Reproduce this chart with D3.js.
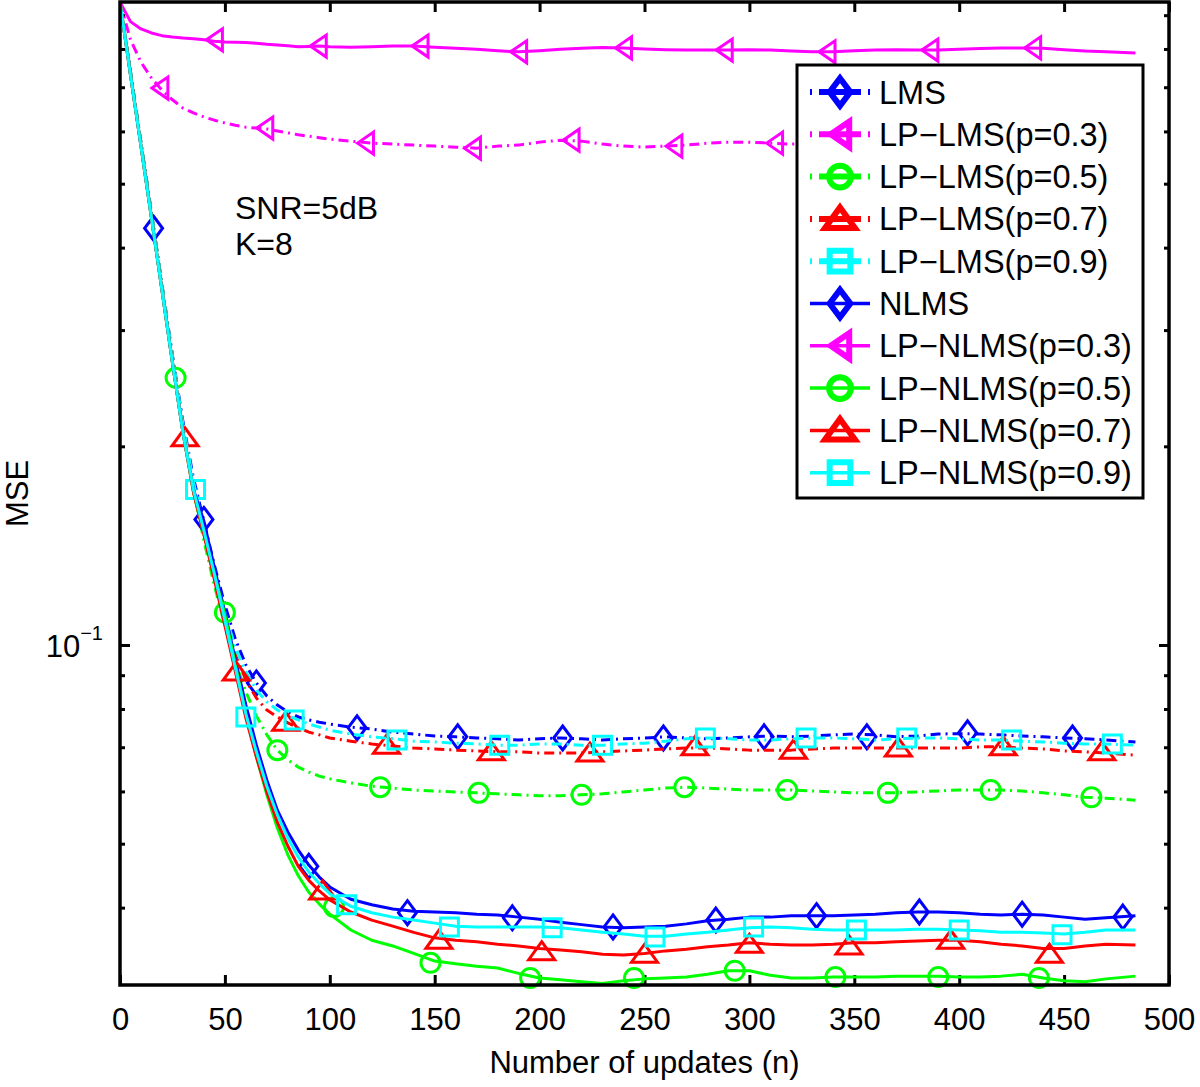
<!DOCTYPE html>
<html><head><meta charset="utf-8">
<script src="https://cdn.jsdelivr.net/npm/d3@7"></script>
<style>body{margin:0;background:#fff} svg{display:block} text{font-family:"Liberation Sans",Arial,Helvetica,sans-serif;fill:#000}</style>
</head><body><svg id="c" width="1200" height="1087"></svg>
<script>
// ---------- DATA ----------
const nGrid = [0,5,10,15,20,25,30,35,40,45,50,55,60,65,70,75,80,85,90,95,100,
  110,120,130,140,150,160,170,180,190,200,210,220,230,240,250,260,270,280,290,300,
  310,320,330,340,350,360,370,380,390,400,410,420,430,440,450,460,470,484];

const lmsMSE = [0.942,0.738,0.576,0.451,0.351,0.274,0.218,0.179,0.154,0.132,0.115,0.102,0.0933,0.0876,0.0837,0.0811,0.0792,0.0778,0.0770,0.0764,0.0759,
  0.0751,0.0746,0.0738,0.0733,0.0728,0.0726,0.0723,0.0721,0.0718,0.0721,0.0723,0.0721,0.0718,0.0721,0.0723,0.0726,0.0723,0.0721,0.0723,0.0726,
  0.0728,0.0726,0.0728,0.0731,0.0733,0.0731,0.0726,0.0728,0.0733,0.0734,0.0733,0.0731,0.0728,0.0726,0.0723,0.0721,0.0718,0.0713];
const lpLms03MSE = [0.942,0.826,0.764,0.723,0.693,0.670,0.651,0.640,0.631,0.624,0.618,0.613,0.609,0.607,0.605,0.601,0.597,0.593,0.590,0.587,0.584,
  0.580,0.576,0.574,0.572,0.570,0.568,0.566,0.570,0.572,0.578,0.582,0.580,0.574,0.570,0.568,0.570,0.572,0.576,0.578,0.578,
  0.576,0.574,0.575,0.577,0.578,0.576,0.574,0.573,0.575,0.577,0.578,0.576,0.574,0.575,0.577,0.576,0.574,0.573];
const lpLms05MSE = [0.942,0.738,0.576,0.451,0.351,0.270,0.212,0.172,0.144,0.123,0.107,0.0942,0.0849,0.0781,0.0731,0.0693,0.0670,0.0653,0.0642,0.0633,0.0627,
  0.0618,0.0611,0.0607,0.0603,0.0601,0.0599,0.0597,0.0595,0.0593,0.0591,0.0591,0.0593,0.0595,0.0599,0.0603,0.0607,0.0609,0.0607,0.0605,0.0603,
  0.0603,0.0603,0.0601,0.0599,0.0597,0.0597,0.0597,0.0599,0.0601,0.0603,0.0603,0.0603,0.0601,0.0597,0.0593,0.0588,0.0586,0.0582];
const lpLms07MSE = [0.942,0.738,0.576,0.451,0.351,0.274,0.215,0.175,0.148,0.128,0.110,0.0966,0.0885,0.0831,0.0797,0.0778,0.0762,0.0749,0.0738,0.0731,0.0723,
  0.0715,0.0708,0.0703,0.0698,0.0696,0.0693,0.0691,0.0689,0.0689,0.0686,0.0686,0.0686,0.0689,0.0691,0.0693,0.0696,0.0698,0.0698,0.0696,0.0693,
  0.0693,0.0693,0.0696,0.0698,0.0698,0.0698,0.0698,0.0698,0.0698,0.0698,0.0701,0.0701,0.0698,0.0696,0.0691,0.0689,0.0686,0.0681];
const lpLms09MSE = [0.942,0.738,0.576,0.451,0.351,0.274,0.216,0.177,0.150,0.130,0.112,0.0990,0.0910,0.0855,0.0820,0.0797,0.0781,0.0770,0.0759,0.0751,0.0743,
  0.0733,0.0726,0.0721,0.0715,0.0713,0.0710,0.0708,0.0705,0.0705,0.0708,0.0708,0.0705,0.0705,0.0708,0.0710,0.0715,0.0721,0.0723,0.0721,0.0718,
  0.0718,0.0721,0.0723,0.0723,0.0721,0.0718,0.0721,0.0723,0.0723,0.0721,0.0718,0.0718,0.0715,0.0713,0.0710,0.0708,0.0708,0.0705];
const nlmsMSE = [0.942,0.731,0.570,0.444,0.345,0.268,0.210,0.172,0.154,0.131,0.112,0.0949,0.0811,0.0705,0.0624,0.0562,0.0521,0.0489,0.0464,0.0445,0.0430,
  0.0412,0.0404,0.0398,0.0395,0.0394,0.0393,0.0391,0.0390,0.0387,0.0384,0.0380,0.0377,0.0374,0.0373,0.0374,0.0375,0.0378,0.0382,0.0384,0.0387,
  0.0387,0.0389,0.0389,0.0389,0.0390,0.0391,0.0393,0.0394,0.0394,0.0393,0.0391,0.0390,0.0391,0.0390,0.0387,0.0384,0.0386,0.0389];
const lpNlms03MSE = [0.942,0.880,0.858,0.846,0.838,0.834,0.831,0.829,0.826,0.822,0.820,0.819,0.818,0.816,0.813,0.811,0.809,0.806,0.807,0.808,0.806,
  0.805,0.806,0.808,0.808,0.805,0.802,0.799,0.795,0.792,0.795,0.799,0.802,0.804,0.803,0.800,0.798,0.797,0.797,0.797,0.798,
  0.797,0.794,0.792,0.792,0.795,0.797,0.798,0.797,0.797,0.799,0.801,0.803,0.803,0.802,0.798,0.794,0.792,0.789];
const lpNlms05MSE = [0.942,0.731,0.570,0.444,0.345,0.268,0.210,0.1705,0.147,0.128,0.111,0.0933,0.0783,0.0677,0.0593,0.0528,0.0481,0.0447,0.0422,0.0405,0.0391,
  0.0370,0.0357,0.0350,0.0341,0.0332,0.0329,0.0326,0.0324,0.0318,0.0313,0.0311,0.0309,0.0307,0.0310,0.0312,0.0313,0.0314,0.0317,0.0321,0.0321,
  0.0316,0.0313,0.0313,0.0314,0.0314,0.0314,0.0315,0.0315,0.0315,0.0314,0.0314,0.0315,0.0317,0.0313,0.0310,0.0309,0.0312,0.0315];
const lpNlms07MSE = [0.942,0.731,0.570,0.444,0.345,0.268,0.210,0.1705,0.147,0.1255,0.107,0.0910,0.0775,0.0677,0.0599,0.0539,0.0496,0.0462,0.0440,0.0424,0.0411,
  0.0394,0.0383,0.0375,0.0367,0.0360,0.0357,0.0355,0.0352,0.0350,0.0347,0.0345,0.0343,0.0340,0.0339,0.0341,0.0344,0.0346,0.0349,0.0351,0.0354,
  0.0352,0.0351,0.0351,0.0352,0.0354,0.0354,0.0355,0.0356,0.0357,0.0357,0.0355,0.0352,0.0350,0.0347,0.0347,0.0350,0.0352,0.0351];
const lpNlms09MSE = [0.942,0.731,0.570,0.444,0.345,0.268,0.210,0.172,0.149,0.128,0.109,0.0923,0.0786,0.0689,0.0611,0.0553,0.0510,0.0477,0.0453,0.0435,0.0420,
  0.0402,0.0393,0.0387,0.0383,0.0379,0.0375,0.0374,0.0374,0.0374,0.0374,0.0373,0.0370,0.0367,0.0365,0.0362,0.0362,0.0365,0.0367,0.0370,0.0373,
  0.0374,0.0373,0.0371,0.0370,0.0370,0.0370,0.0370,0.0371,0.0371,0.0370,0.0369,0.0367,0.0367,0.0366,0.0365,0.0367,0.0370,0.0370];

// marker positions (n) and values
const lmsMarkN = [16,65,113,161,211,259,307,356,404,454];
const lmsMarkMSE = [0.428,0.0876,0.0749,0.0726,0.0723,0.0723,0.0726,0.0726,0.0736,0.0723];
const lpLms03MarkN = [19,69,117,168,215,264,312,360,409,458];
const lpLms03MarkMSE = [0.698,0.607,0.576,0.566,0.582,0.570,0.576,0.576,0.578,0.576];
const lpLms05MarkN = [26.5,75,124,171,220,269,318,366,415,463];
const lpLms05MarkMSE = [0.254,0.0693,0.0609,0.0597,0.0593,0.0609,0.0603,0.0597,0.0603,0.0588];
const lpLms07MarkN = [31,79,127,177,224,274,321,371,421,468];
const lpLms07MarkMSE = [0.206,0.0764,0.0705,0.0689,0.0686,0.0701,0.0693,0.0698,0.0701,0.0689];
const lpLms09MarkN = [36,83,132,181,230,279,327,375,425,473];
const lpLms09MarkMSE = [0.172,0.0770,0.0718,0.0705,0.0705,0.0723,0.0723,0.0723,0.0718,0.0708];
const nlmsMarkN = [40,90,137,187,235,284,332,381,430,478];
const nlmsMarkMSE = [0.155,0.0462,0.0393,0.0386,0.0374,0.0383,0.0389,0.0394,0.0391,0.0387];
const lpNlms03MarkN = [45,94.5,143,190,240,288,337,386,435];
const lpNlms03MarkMSE = [0.826,0.808,0.808,0.792,0.803,0.797,0.792,0.797,0.803];
const lpNlms05MarkN = [50,102,148,195.5,245,293,341,390,438];
const lpNlms05MarkMSE = [0.112,0.0401,0.0330,0.0313,0.0313,0.0321,0.0314,0.0314,0.0313];
const lpNlms07MarkN = [55.4,96.6,152,201,250,300,347.5,396,443];
const lpNlms07MarkMSE = [0.0910,0.0424,0.0357,0.0343,0.0340,0.0352,0.0350,0.0357,0.0340];
const lpNlms09MarkN = [60,108,157,206,255,302,351,400,449];
const lpNlms09MarkMSE = [0.0778,0.0404,0.0374,0.0373,0.0361,0.0374,0.0370,0.0370,0.0364];

const seriesNames = ["LMS","LP\u2212LMS(p=0.3)","LP\u2212LMS(p=0.5)","LP\u2212LMS(p=0.7)","LP\u2212LMS(p=0.9)",
  "NLMS","LP\u2212NLMS(p=0.3)","LP\u2212NLMS(p=0.5)","LP\u2212NLMS(p=0.7)","LP\u2212NLMS(p=0.9)"];
const xTicks = [0,50,100,150,200,250,300,350,400,450,500];
const yMajorTicks = [0.1];
const yMinorTicks = [0.04,0.05,0.06,0.07,0.08,0.09,0.2,0.3,0.4,0.5,0.6,0.7,0.8,0.9];
const xLabel = "Number of updates (n)";
const yLabel = "MSE";
const annotations = ["SNR=5dB","K=8"];

// ---------- STYLE / LAYOUT ----------
const plot = {left:120, right:1169, top:2, bottom:985};
const styles = [
  {color:"#0000ff", dash:true,  marker:"diamond"},
  {color:"#ff00ff", dash:true,  marker:"triLeft"},
  {color:"#00ff00", dash:true,  marker:"circle"},
  {color:"#ff0000", dash:true,  marker:"triUp"},
  {color:"#00ffff", dash:true,  marker:"square"},
  {color:"#0000ff", dash:false, marker:"diamond"},
  {color:"#ff00ff", dash:false, marker:"triLeft"},
  {color:"#00ff00", dash:false, marker:"circle"},
  {color:"#ff0000", dash:false, marker:"triUp"},
  {color:"#00ffff", dash:false, marker:"square"}
];
const seriesVals = [lmsMSE,lpLms03MSE,lpLms05MSE,lpLms07MSE,lpLms09MSE,nlmsMSE,lpNlms03MSE,lpNlms05MSE,lpNlms07MSE,lpNlms09MSE];
const markN = [lmsMarkN,lpLms03MarkN,lpLms05MarkN,lpLms07MarkN,lpLms09MarkN,nlmsMarkN,lpNlms03MarkN,lpNlms05MarkN,lpNlms07MarkN,lpNlms09MarkN];
const markV = [lmsMarkMSE,lpLms03MarkMSE,lpLms05MarkMSE,lpLms07MarkMSE,lpLms09MarkMSE,nlmsMarkMSE,lpNlms03MarkMSE,lpNlms05MarkMSE,lpNlms07MarkMSE,lpNlms09MarkMSE];

function markerPath(type, s){
  switch(type){
    case "diamond": return `M0,${-12*s}L${9*s},0L0,${12*s}L${-9*s},0Z`;
    case "triLeft": return `M${-8*s},0L${8*s},${-11*s}L${8*s},${11*s}Z`;
    case "triUp": return `M0,${-10*s}L${13*s},${8*s}L${-13*s},${8*s}Z`;
    case "square": return `M${-9*s},${-9*s}H${9*s}V${9*s}H${-9*s}Z`;
    case "circle": { const r=9.5*s; return `M${-r},0A${r},${r} 0 1,0 ${r},0A${r},${r} 0 1,0 ${-r},0Z`; }
  }
}

const svg = d3.select("#c");
svg.append("rect").attr("width",1200).attr("height",1087).attr("fill","#fff");

const x = d3.scaleLinear().domain([0,500]).range([plot.left,plot.right]);
const y = d3.scaleLog().domain([0.03054,0.9424]).range([plot.bottom,plot.top]);

svg.append("clipPath").attr("id","pc").append("rect")
  .attr("x",plot.left).attr("y",plot.top).attr("width",plot.right-plot.left).attr("height",plot.bottom-plot.top);

// axes ticks (inward)
const axG = svg.append("g");
const bottomAx = d3.axisBottom(x).tickValues(xTicks).tickSizeInner(-10).tickSizeOuter(0).tickPadding(23).tickFormat(d3.format("d"));
const gb = axG.append("g").attr("transform",`translate(0,${plot.bottom})`).call(bottomAx);
gb.selectAll("text").attr("font-size",31).attr("font-family","Liberation Sans, Arial, sans-serif").attr("fill","#000");
const topAx = d3.axisTop(x).tickValues(xTicks).tickSizeInner(-10).tickSizeOuter(0).tickFormat("");
axG.append("g").attr("transform",`translate(0,${plot.top})`).call(topAx);
const leftMaj = d3.axisLeft(y).tickValues(yMajorTicks).tickSizeInner(-10).tickSizeOuter(0).tickFormat("");
axG.append("g").attr("transform",`translate(${plot.left},0)`).call(leftMaj);
const leftMin = d3.axisLeft(y).tickValues(yMinorTicks).tickSizeInner(-5).tickSizeOuter(0).tickFormat("");
axG.append("g").attr("transform",`translate(${plot.left},0)`).call(leftMin);
const rightMaj = d3.axisRight(y).tickValues(yMajorTicks).tickSizeInner(-10).tickSizeOuter(0).tickFormat("");
axG.append("g").attr("transform",`translate(${plot.right},0)`).call(rightMaj);
const rightMin = d3.axisRight(y).tickValues(yMinorTicks).tickSizeInner(-5).tickSizeOuter(0).tickFormat("");
axG.append("g").attr("transform",`translate(${plot.right},0)`).call(rightMin);
axG.selectAll(".domain").remove();
axG.selectAll(".tick line").attr("stroke","#000").attr("stroke-width",3);

// y major label 10^-1
yMajorTicks.forEach(v=>{
  const t = svg.append("text").attr("x",103).attr("y",y(v)+12).attr("text-anchor","end").attr("font-size",31);
  t.append("tspan").text("10");
  t.append("tspan").attr("dy",-17).attr("font-size",20).text("\u22121");
});

// series
const lineGen = d3.line().x((d,i)=>x(nGrid[i])).y(d=>y(d));
const dataG = svg.append("g");
seriesVals.forEach((vals,k)=>{
  const st = styles[k];
  dataG.append("path").attr("d",lineGen(vals)).attr("fill","none")
    .attr("stroke",st.color).attr("stroke-width",3).attr("stroke-linejoin","round")
    .attr("stroke-dasharray",st.dash?"10,5,2,5":null)
    .attr("clip-path","url(#pc)");
  dataG.append("g").selectAll("path").data(markN[k].map((n,i)=>[n,markV[k][i]])).join("path")
    .attr("transform",d=>`translate(${x(d[0])},${y(d[1])})`)
    .attr("d",markerPath(st.marker,1)).attr("fill","none")
    .attr("stroke",st.color).attr("stroke-width",3).attr("stroke-linejoin","miter");
});

// frame
svg.append("rect").attr("x",plot.left).attr("y",plot.top).attr("width",plot.right-plot.left).attr("height",plot.bottom-plot.top)
  .attr("fill","none").attr("stroke","#000").attr("stroke-width",3.5);

// axis labels
svg.append("text").attr("x",(plot.left+plot.right)/2).attr("y",1073).attr("text-anchor","middle").attr("font-size",31).text(xLabel);
svg.append("text").attr("transform",`translate(28,${(plot.top+plot.bottom)/2}) rotate(-90)`).attr("text-anchor","middle").attr("font-size",31).text(yLabel);

// annotations
annotations.forEach((a,i)=>{
  svg.append("text").attr("x",235).attr("y",219+36*i).attr("font-size",32).text(a);
});

// legend
const leg = {x:797, y:65, w:346, h:433, row0:92, dy:42.3};
const lg = svg.append("g");
lg.append("rect").attr("x",leg.x).attr("y",leg.y).attr("width",leg.w).attr("height",leg.h)
  .attr("fill","#fff").attr("stroke","#000").attr("stroke-width",3);
seriesNames.forEach((name,k)=>{
  const st = styles[k];
  const cy = leg.row0 + leg.dy*k;
  lg.append("line").attr("x1",810).attr("x2",870).attr("y1",cy).attr("y2",cy)
    .attr("stroke",st.color).attr("stroke-width",st.dash?6:3.5)
    .attr("stroke-dasharray",st.dash?"2,7,42,7,2":null);
  lg.append("path").attr("transform",`translate(840,${cy})`).attr("d",markerPath(st.marker,1.15))
    .attr("fill","none").attr("stroke",st.color).attr("stroke-width",6);
  lg.append("text").attr("x",879).attr("y",cy+11.5).attr("font-size",32.5).text(name);
});
</script>
</body></html>
